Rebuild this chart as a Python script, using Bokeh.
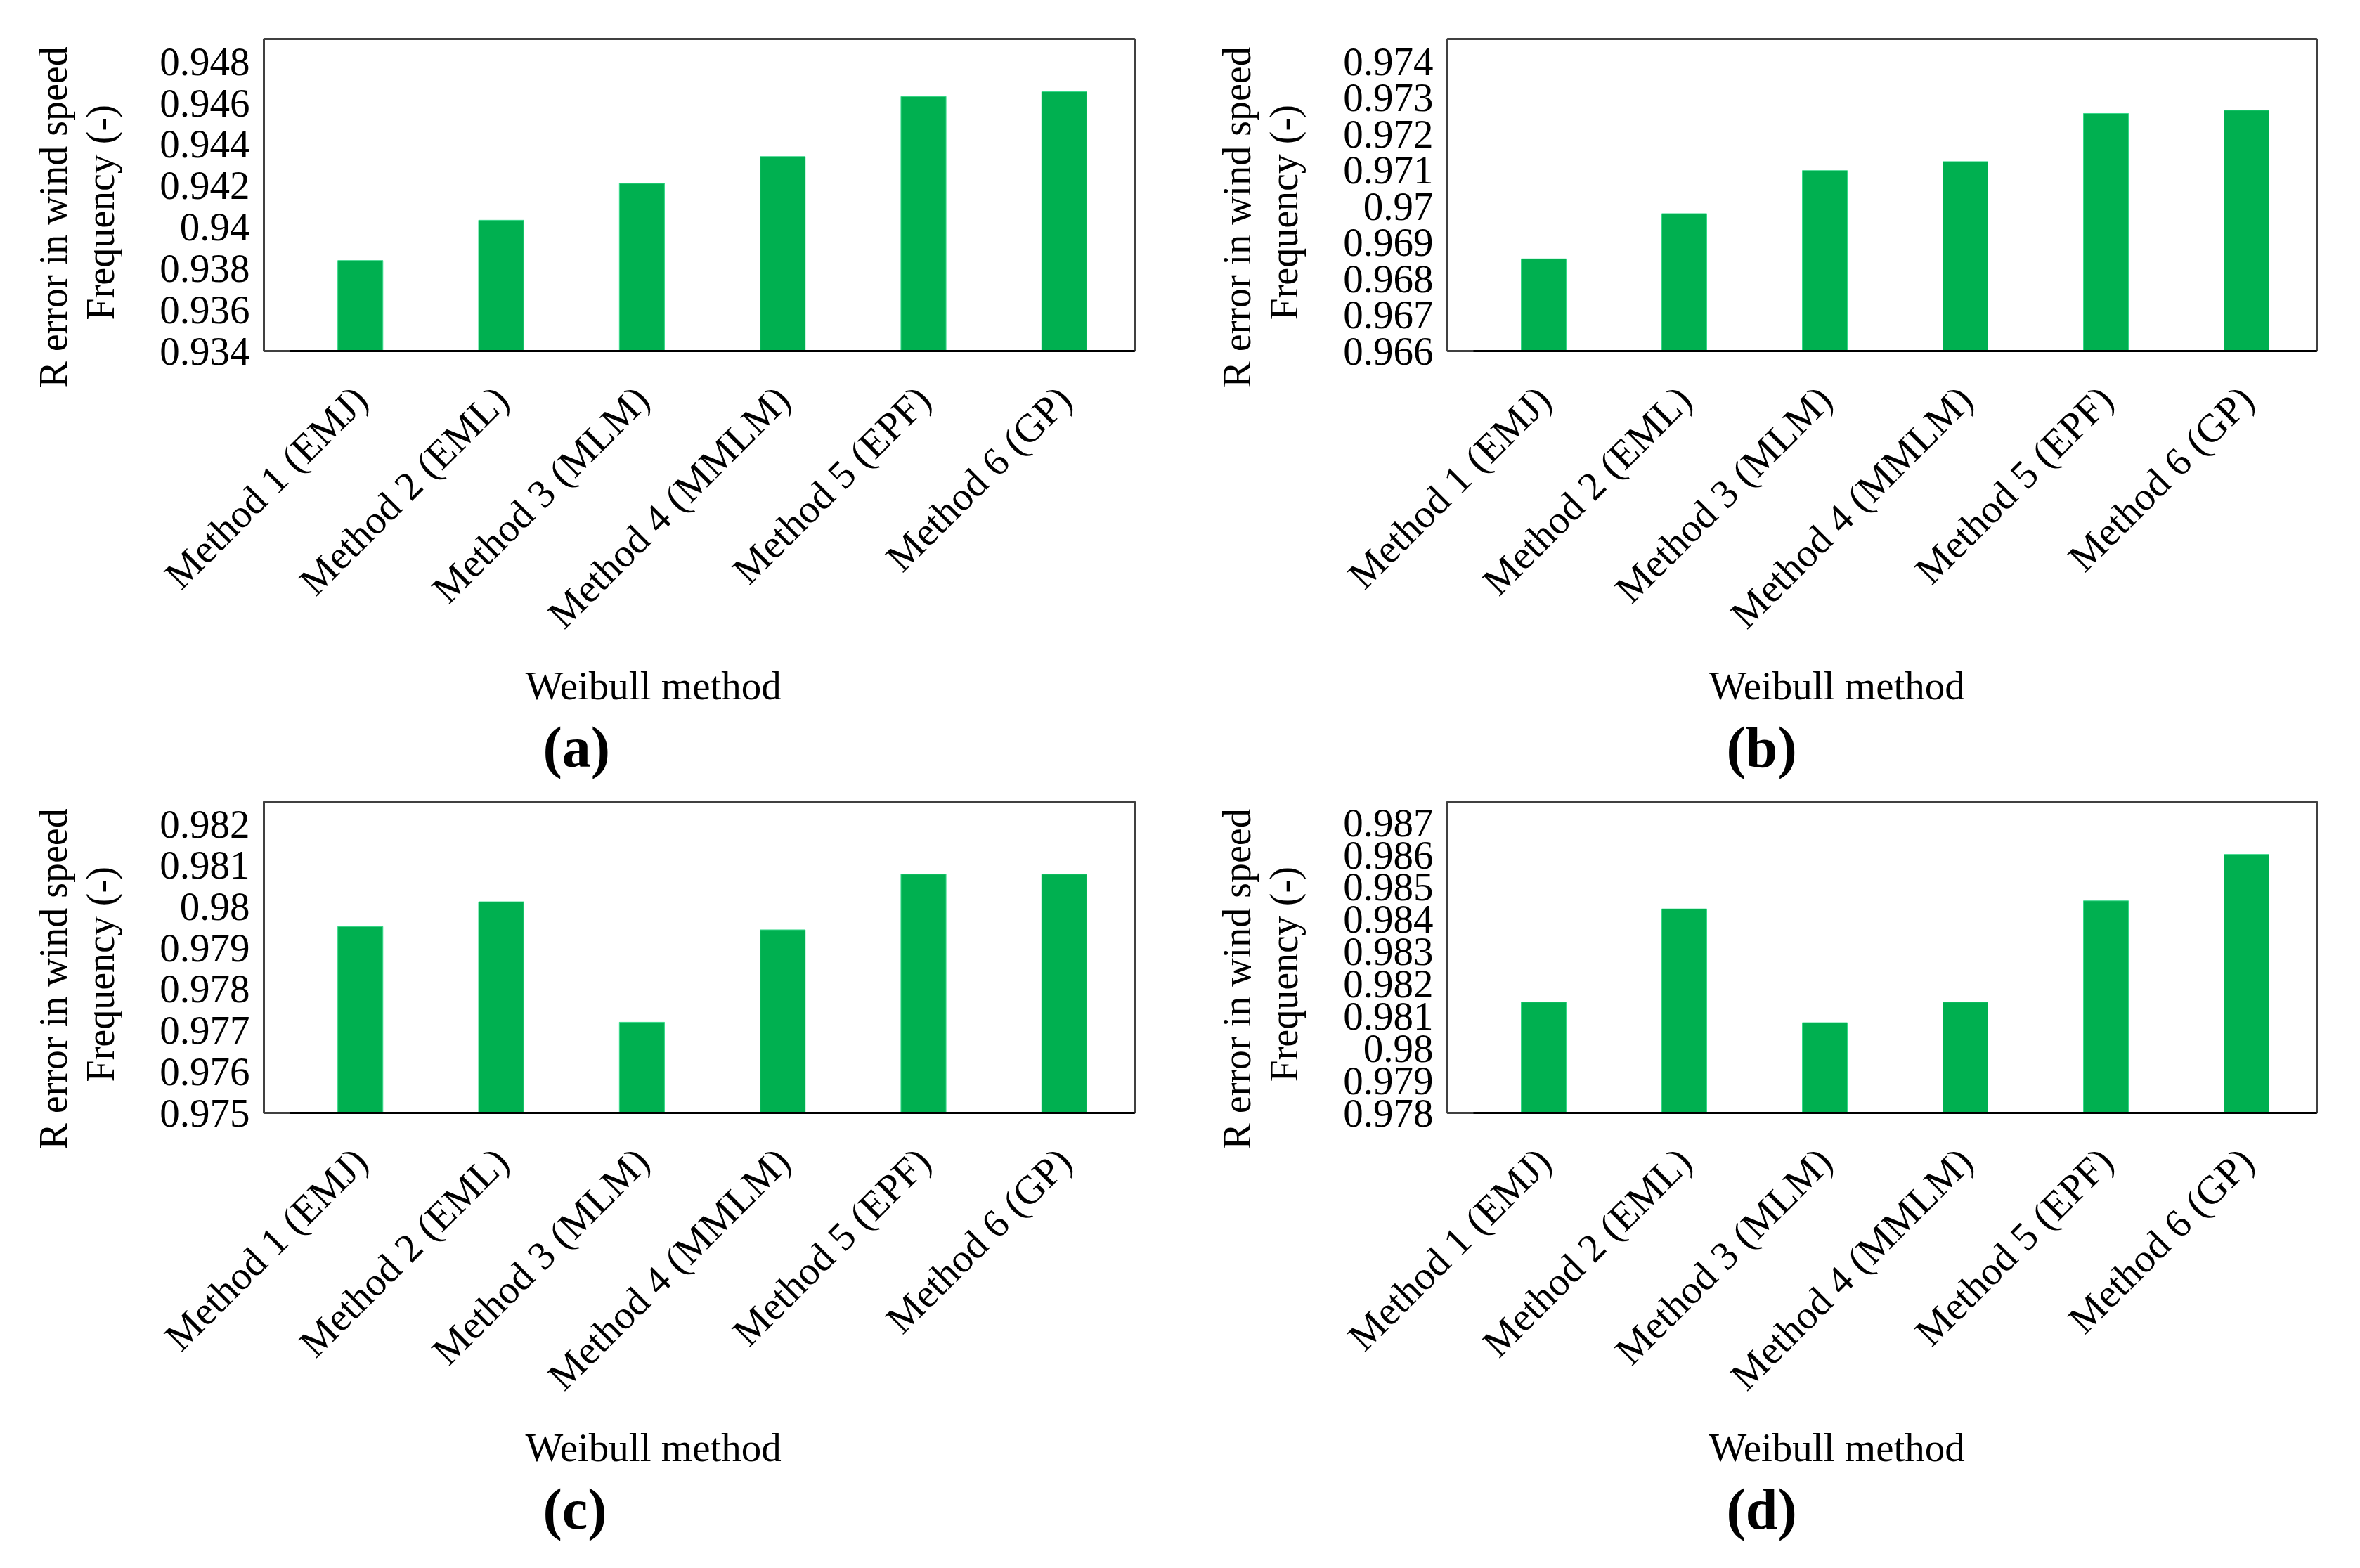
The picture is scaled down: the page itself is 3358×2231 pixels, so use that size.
import math
from bokeh.plotting import figure
from bokeh.models import FixedTicker, Range1d, Title
from bokeh.layouts import column, row
from bokeh.embed import file_html
from bokeh.resources import INLINE

methods = ["Method 1 (EMJ)", "Method 2 (EML)", "Method 3 (MLM)",
           "Method 4 (MMLM)", "Method 5 (EPF)", "Method 6 (GP)"]

values_a = [0.93838, 0.94033, 0.94211, 0.94341, 0.94632, 0.94655]
values_b = [0.96855, 0.96980, 0.97099, 0.97124, 0.97257, 0.97266]
values_c = [0.97952, 0.98012, 0.97720, 0.97944, 0.98079, 0.98079]
values_d = [0.98144, 0.98433, 0.98080, 0.98144, 0.98458, 0.98602]

yticks_a = [0.934, 0.936, 0.938, 0.940, 0.942, 0.944, 0.946, 0.948]
ylabels_a = ["0.934", "0.936", "0.938", "0.94", "0.942", "0.944", "0.946", "0.948"]
yticks_b = [0.966, 0.967, 0.968, 0.969, 0.970, 0.971, 0.972, 0.973, 0.974]
ylabels_b = ["0.966", "0.967", "0.968", "0.969", "0.97", "0.971", "0.972", "0.973", "0.974"]
yticks_c = [0.975, 0.976, 0.977, 0.978, 0.979, 0.980, 0.981, 0.982]
ylabels_c = ["0.975", "0.976", "0.977", "0.978", "0.979", "0.98", "0.981", "0.982"]
yticks_d = [0.978, 0.979, 0.980, 0.981, 0.982, 0.983, 0.984, 0.985, 0.986, 0.987]
ylabels_d = ["0.978", "0.979", "0.98", "0.981", "0.982", "0.983", "0.984", "0.985", "0.986", "0.987"]

yrange_a = (0.934, 0.9491)
yrange_b = (0.966, 0.97463)
yrange_c = (0.975, 0.98255)
yrange_d = (0.978, 0.98766)

x_label = "Weibull method"
y_label_1 = "R  error in wind speed"
y_label_2 = "Frequency (-)"
tags = ["(a)", "(b)", "(c)", "(d)"]

FONT = "Liberation Serif"
GREEN = "#00B050"


def panel(vals, yticks, ylabels, yrng, tag, width, height, bl, br, bt, bb):
    xs = [i + 0.5 for i in range(len(methods))]
    p = figure(width=width, height=height,
               x_range=Range1d(-0.185, len(methods)),
               y_range=Range1d(*yrng),
               output_backend="svg", toolbar_location=None,
               min_border_left=bl, min_border_right=br,
               min_border_top=bt, min_border_bottom=bb,
               background_fill_color="white", border_fill_color="white")
    p.vbar(x=xs, top=vals, bottom=yrng[0], width=0.32,
           fill_color=GREEN, line_color="#35d888", line_width=1)
    p.xgrid.visible = False
    p.ygrid.visible = False
    p.outline_line_color = "#404040"
    p.outline_line_width = 3

    xa = p.xaxis[0]
    xa.ticker = FixedTicker(ticks=xs)
    xa.major_label_overrides = {x: m for x, m in zip(xs, methods)}
    xa.major_label_orientation = math.pi / 4
    xa.major_tick_line_color = None
    xa.minor_tick_line_color = None
    xa.axis_line_color = "black"
    xa.axis_line_width = 3
    xa.bounds = (0, len(methods))
    xa.major_label_standoff = 53
    xa.major_label_text_font = FONT
    xa.major_label_text_font_size = "57px"
    xa.major_label_text_color = "black"

    ya = p.yaxis[0]
    ya.ticker = FixedTicker(ticks=yticks)
    ya.major_label_overrides = {t: s for t, s in zip(yticks, ylabels)}
    ya.major_tick_line_color = None
    ya.minor_tick_line_color = None
    ya.axis_line_color = None
    ya.major_label_standoff = 14
    ya.major_label_text_font = FONT
    ya.major_label_text_font_size = "57px"
    ya.major_label_text_color = "black"

    for txt, so, off in ((y_label_2, 101, 44), (y_label_1, -95, -52)):
        p.add_layout(Title(text=txt, align="left", offset=off, standoff=so,
                           text_font=FONT, text_font_size="56px",
                           text_font_style="normal", text_color="black"), "left")

    t1 = Title(text=x_label, align="left", offset=372, standoff=23,
               text_font=FONT, text_font_size="57px", text_font_style="normal",
               text_color="black")
    p.add_layout(t1, "below")
    t2 = Title(text=tag, align="left", offset=397, standoff=-6,
               text_font=FONT, text_font_size="82px", text_font_style="bold",
               text_color="black")
    p.add_layout(t2, "below")
    return p


pa = panel(values_a, yticks_a, ylabels_a, yrange_a, tags[0], 1679, 1122, 375, 65, 55, 623)
pb = panel(values_b, yticks_b, ylabels_b, yrange_b, tags[1], 1663, 1122, 380, 46, 55, 623)
pc = panel(values_c, yticks_c, ylabels_c, yrange_c, tags[2], 1679, 1109, 375, 65, 18, 648)
pd = panel(values_d, yticks_d, ylabels_d, yrange_d, tags[3], 1663, 1109, 380, 46, 18, 648)

layout = column(row(pa, pb, spacing=0), row(pc, pd, spacing=0), spacing=0)

open("out.html", "w").write(file_html(layout, INLINE))
